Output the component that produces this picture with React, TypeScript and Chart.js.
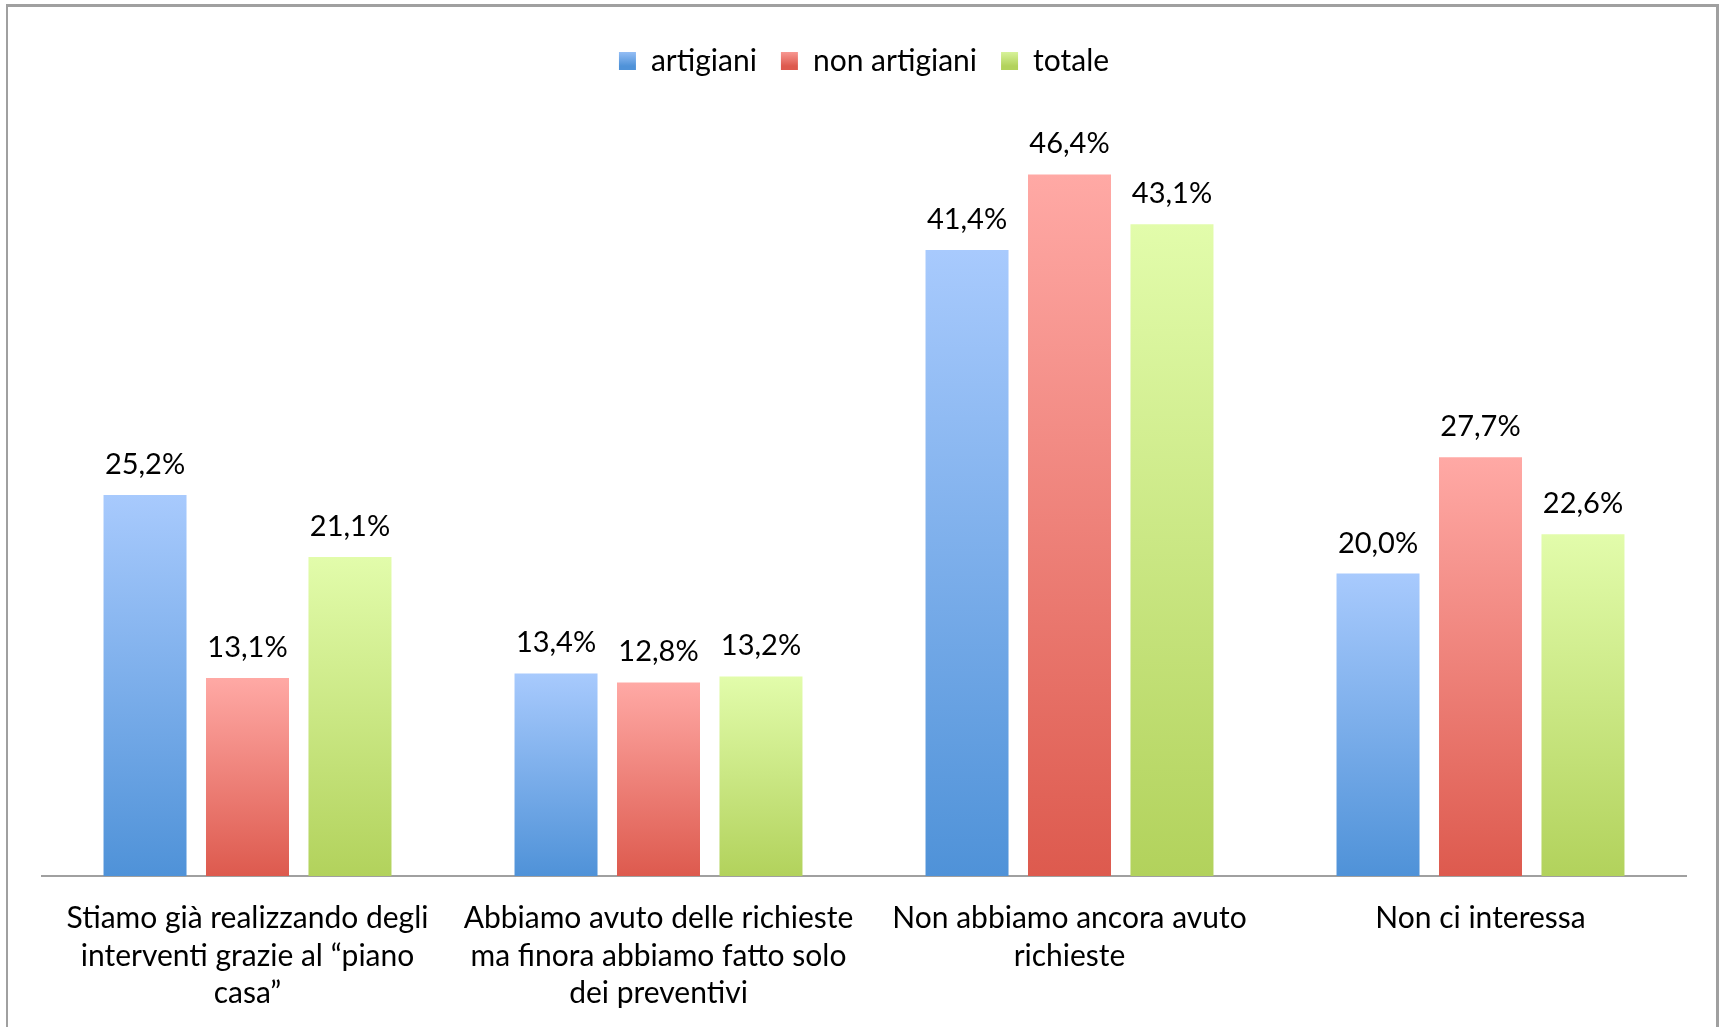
import React, { useEffect, useRef } from "react";
import { Chart, registerables } from "chart.js";

Chart.register(...registerables);

const categories: string[][] = [
  ["Stiamo già realizzando degli", "interventi grazie al “piano", "casa”"],
  ["Abbiamo avuto delle richieste", "ma finora abbiamo fatto solo", "dei preventivi"],
  ["Non abbiamo ancora avuto", "richieste"],
  ["Non ci interessa"],
];
const seriesNames = ["artigiani", "non artigiani", "totale"];
const artigiani = [25.2, 13.4, 41.4, 20.0];
const nonArtigiani = [13.1, 12.8, 46.4, 27.7];
const totale = [21.1, 13.2, 43.1, 22.6];

const gradientStops: [string, string][] = [
  ["#a8cafd", "#4f92d8"],
  ["#ffa9a5", "#dd5a4e"],
  ["#e2fcab", "#b2d25c"],
];

const FONT = "Lato, 'Open Sans', sans-serif";

function barGradient(ctx: any, dsIndex: number) {
  const chart = ctx.chart;
  const area = chart.chartArea;
  if (!area || ctx.type !== "data") return gradientStops[dsIndex][1];
  const yScale = chart.scales.y;
  const top = yScale.getPixelForValue(ctx.raw);
  const bottom = yScale.getPixelForValue(0);
  const g = chart.ctx.createLinearGradient(0, top, 0, bottom);
  g.addColorStop(0, gradientStops[dsIndex][0]);
  g.addColorStop(1, gradientStops[dsIndex][1]);
  return g;
}

const valueLabels = {
  id: "valueLabels",
  afterDatasetsDraw(chart: any) {
    const ctx = chart.ctx;
    ctx.save();
    ctx.font = `29px ${FONT}`;
    ctx.fillStyle = "#000";
    ctx.textAlign = "center";
    ctx.textBaseline = "alphabetic";
    chart.data.datasets.forEach((ds: any, di: number) => {
      const meta = chart.getDatasetMeta(di);
      meta.data.forEach((bar: any, i: number) => {
        const v = ds.data[i] as number;
        const txt = v.toFixed(1).replace(".", ",") + "%";
        ctx.fillText(txt, bar.x, bar.y - 21);
      });
    });
    ctx.restore();
  },
};

const LEGEND_TOP = 22;
const PLOT_TOP = 120;

const legendSpacer = {
  id: "legendSpacer",
  beforeInit(chart: any) {
    const legend = chart.legend;
    if (!legend) return;
    const origFit = legend.fit;
    legend.fit = function () {
      origFit.call(this);
      this.height = PLOT_TOP - LEGEND_TOP;
    };
  },
};

export default function App() {
  const ref = useRef<HTMLCanvasElement | null>(null);
  useEffect(() => {
    if (!ref.current) return;
    const series = [artigiani, nonArtigiani, totale];
    const chart = new Chart(ref.current, {
      type: "bar",
      data: {
        labels: categories as any,
        datasets: series.map((d, di) => ({
          label: seriesNames[di],
          data: d,
          backgroundColor: (c: any) => barGradient(c, di),
          borderWidth: 0,
          categoryPercentage: 0.748,
          barPercentage: 0.81,
        })),
      },
      options: {
        animation: false,
        responsive: false,
        devicePixelRatio: 1,
        layout: { padding: { left: 42, right: 39, top: LEGEND_TOP, bottom: 0 } },
        plugins: {
          tooltip: { enabled: false },
          legend: {
            display: true,
            position: "top",
            labels: {
              font: { family: FONT, size: 30 },
              color: "#000",
              boxWidth: 17,
              boxHeight: 18,
              padding: 24,
              generateLabels: (chart: any) => {
                return seriesNames.map((n, i) => {
                  const g = chart.ctx.createLinearGradient(0, 48, 0, 66);
                  g.addColorStop(0, gradientStops[i][0]);
                  g.addColorStop(1, gradientStops[i][1]);
                  return {
                    text: n,
                    fillStyle: g,
                    strokeStyle: g,
                    lineWidth: 0,
                    hidden: false,
                    datasetIndex: i,
                    fontColor: "#000",
                  };
                });
              },
            },
          },
        },
        scales: {
          x: {
            grid: { display: false, drawTicks: false },
            border: { display: true, color: "#a0a0a0", width: 2 },
            ticks: {
              font: { family: FONT, size: 30, lineHeight: 1.247 },
              color: "#000",
              padding: 24,
              maxRotation: 0,
              autoSkip: false,
            },
            afterFit: (scale: any) => {
              scale.height = 151;
            },
          },
          y: {
            display: false,
            min: 0,
            max: 50,
          },
        },
      },
      plugins: [valueLabels, legendSpacer],
    });
    return () => chart.destroy();
  }, []);

  return (
    <div
      style={{
        position: "fixed",
        left: 0,
        top: 0,
        width: 1725,
        height: 1027,
        overflow: "hidden",
        background: "#fff",
      }}
    >
      <div
        style={{
          position: "absolute",
          left: 6,
          top: 4,
          width: 1713,
          height: 1100,
          borderTop: "3px solid #a0a0a0",
          borderLeft: "2px solid #a0a0a0",
          borderRight: "3px solid #a0a0a0",
          boxSizing: "border-box",
        }}
      />
      <canvas
        ref={ref}
        width={1725}
        height={1027}
        style={{ position: "absolute", left: 0, top: 0, width: 1725, height: 1027 }}
      />
    </div>
  );
}
